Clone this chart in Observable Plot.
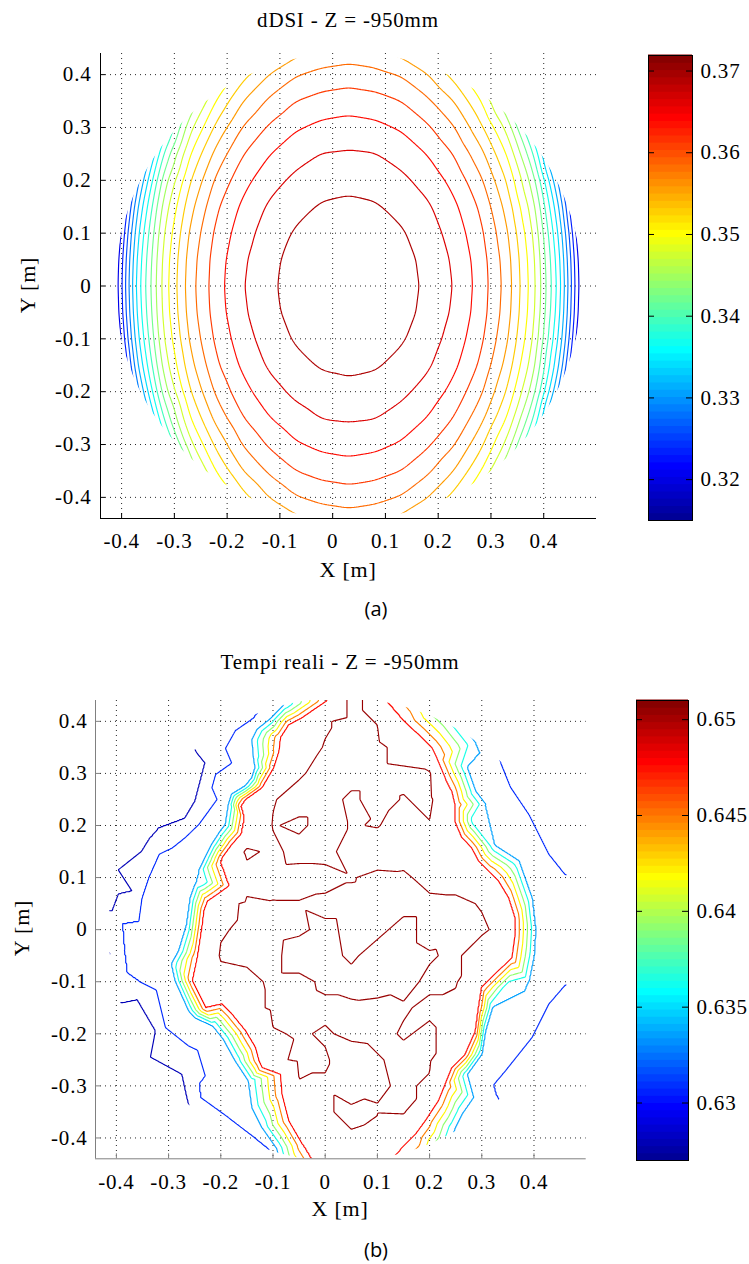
<!DOCTYPE html>
<html>
<head>
<meta charset="utf-8">
<script src="https://cdn.jsdelivr.net/npm/d3@7"></script>
<script src="https://cdn.jsdelivr.net/npm/@observablehq/plot@0.6"></script>
<style>
  html, body { margin: 0; padding: 0; background: #fff; }
  #page { position: relative; width: 749px; height: 1264px; overflow: hidden; color: #000;
          font-family: "Liberation Serif", "Times New Roman", serif; }
  .txt { position: absolute; font-size: 21px; letter-spacing: 0.8px; line-height: 1; white-space: nowrap;
         transform: translate(-50%, -50%); }
  .lab { font-size: 22px; }
  .rot { transform: translate(-50%, -50%) rotate(-90deg); }
  .cap { font-family: "Open Sans", "Noto Sans", sans-serif; font-size: 20px; letter-spacing: 0; }
</style>
</head>
<body>
<div id="page"></div>
<script>
// ---- shared axes ----
const xTicks = [-0.4, -0.3, -0.2, -0.1, 0, 0.1, 0.2, 0.3, 0.4];
const yTicks = [-0.4, -0.3, -0.2, -0.1, 0, 0.1, 0.2, 0.3, 0.4];
const xDomain = [-0.44, 0.5];
const yDomain = [-0.44, 0.44];
const probeCenter = [0.03, 0];          // centre of the measured disc [m]

// ---- (a) dDSI, Z = -950 mm ----
const dsiGridX = [-0.42,-0.37,-0.32,-0.27,-0.22,-0.17,-0.12,-0.07,-0.02,0.03,0.08,0.13,0.18,0.23,0.28,0.33,0.38,0.43,0.48];
const dsiGridY = [0.45,0.40,0.35,0.30,0.25,0.20,0.15,0.10,0.05,0,-0.05,-0.10,-0.15,-0.20,-0.25,-0.30,-0.35,-0.40,-0.45];
const dsiGrid = [
  [0.2960,0.2960,0.3130,0.3285,0.3407,0.3475,0.3518,0.3543,0.3558,0.3564,0.3558,0.3543,0.3518,0.3475,0.3407,0.3285,0.3130,0.2960,0.2960],
  [0.2960,0.3036,0.3211,0.3369,0.3466,0.3521,0.3558,0.3582,0.3593,0.3598,0.3593,0.3582,0.3558,0.3521,0.3466,0.3369,0.3211,0.3036,0.2960],
  [0.2960,0.3109,0.3285,0.3426,0.3506,0.3557,0.3589,0.3611,0.3621,0.3625,0.3621,0.3611,0.3589,0.3557,0.3506,0.3426,0.3285,0.3109,0.2960],
  [0.2970,0.3176,0.3350,0.3469,0.3538,0.3586,0.3615,0.3635,0.3645,0.3649,0.3645,0.3635,0.3615,0.3586,0.3538,0.3469,0.3350,0.3176,0.2970],
  [0.3023,0.3230,0.3398,0.3503,0.3567,0.3610,0.3637,0.3655,0.3666,0.3668,0.3666,0.3655,0.3637,0.3610,0.3567,0.3503,0.3398,0.3230,0.3023],
  [0.3067,0.3278,0.3435,0.3529,0.3590,0.3629,0.3655,0.3671,0.3680,0.3684,0.3680,0.3671,0.3655,0.3629,0.3590,0.3529,0.3435,0.3278,0.3067],
  [0.3102,0.3312,0.3460,0.3548,0.3607,0.3644,0.3669,0.3684,0.3695,0.3698,0.3695,0.3684,0.3669,0.3644,0.3607,0.3548,0.3460,0.3312,0.3102],
  [0.3128,0.3334,0.3476,0.3562,0.3618,0.3654,0.3678,0.3695,0.3706,0.3710,0.3706,0.3695,0.3678,0.3654,0.3618,0.3562,0.3476,0.3334,0.3128],
  [0.3143,0.3347,0.3485,0.3570,0.3625,0.3661,0.3684,0.3702,0.3713,0.3717,0.3713,0.3702,0.3684,0.3661,0.3625,0.3570,0.3485,0.3347,0.3143],
  [0.3147,0.3353,0.3488,0.3573,0.3627,0.3664,0.3686,0.3705,0.3715,0.3719,0.3715,0.3705,0.3686,0.3664,0.3627,0.3573,0.3488,0.3353,0.3147],
  [0.3143,0.3347,0.3485,0.3570,0.3625,0.3661,0.3684,0.3702,0.3713,0.3717,0.3713,0.3702,0.3684,0.3661,0.3625,0.3570,0.3485,0.3347,0.3143],
  [0.3128,0.3334,0.3476,0.3562,0.3618,0.3654,0.3678,0.3695,0.3706,0.3710,0.3706,0.3695,0.3678,0.3654,0.3618,0.3562,0.3476,0.3334,0.3128],
  [0.3102,0.3312,0.3460,0.3548,0.3607,0.3644,0.3669,0.3684,0.3695,0.3698,0.3695,0.3684,0.3669,0.3644,0.3607,0.3548,0.3460,0.3312,0.3102],
  [0.3067,0.3278,0.3435,0.3529,0.3590,0.3629,0.3655,0.3671,0.3680,0.3684,0.3680,0.3671,0.3655,0.3629,0.3590,0.3529,0.3435,0.3278,0.3067],
  [0.3023,0.3230,0.3398,0.3503,0.3567,0.3610,0.3637,0.3655,0.3666,0.3668,0.3666,0.3655,0.3637,0.3610,0.3567,0.3503,0.3398,0.3230,0.3023],
  [0.2970,0.3176,0.3350,0.3469,0.3538,0.3586,0.3615,0.3635,0.3645,0.3649,0.3645,0.3635,0.3615,0.3586,0.3538,0.3469,0.3350,0.3176,0.2970],
  [0.2960,0.3109,0.3285,0.3426,0.3506,0.3557,0.3589,0.3611,0.3621,0.3625,0.3621,0.3611,0.3589,0.3557,0.3506,0.3426,0.3285,0.3109,0.2960],
  [0.2960,0.3036,0.3211,0.3369,0.3466,0.3521,0.3558,0.3582,0.3593,0.3598,0.3593,0.3582,0.3558,0.3521,0.3466,0.3369,0.3211,0.3036,0.2960],
  [0.2960,0.2960,0.3130,0.3285,0.3407,0.3475,0.3518,0.3543,0.3558,0.3564,0.3558,0.3543,0.3518,0.3475,0.3407,0.3285,0.3130,0.2960,0.2960]
];
const dsiLevels = [0.3179, 0.3206, 0.3233, 0.3260, 0.3287, 0.3314, 0.3341, 0.3368, 0.3395, 0.3422,
                   0.3449, 0.3476, 0.3503, 0.3530, 0.3557, 0.3584, 0.3611, 0.3638, 0.3665, 0.3692];
const dsiRange = [0.3150, 0.3719];
const dsiBarTicks = [0.32, 0.33, 0.34, 0.35, 0.36, 0.37];
const dsiRadius = 0.442;

// ---- (b) measured times, Z = -950 mm ----
const trLevels = [0.6280, 0.6308, 0.6336, 0.6364, 0.6392, 0.6420, 0.6448, 0.6476, 0.6504];
const trRange = [0.6270, 0.6510];
const trBarTicks = [0.63, 0.635, 0.64, 0.645, 0.65];
const trRadius = 0.445;

// positions [x, y] (m) on the 0.6476 s isoline
const trRed = [
  [0.01,0.50],[0.003,0.44],[-0.045,0.407],[-0.07,0.394],[-0.086,0.369],[-0.089,0.343],[-0.099,0.311],
  [-0.121,0.273],[-0.153,0.25],[-0.162,0.237],[-0.156,0.215],[-0.147,0.199],[-0.162,0.183],[-0.179,0.164],
  [-0.198,0.138],[-0.201,0.129],[-0.179,0.113],[-0.172,0.10],[-0.185,0.084],[-0.207,0.068],[-0.226,0.055],
  [-0.233,0.036],[-0.236,0.01],[-0.245,-0.05],[-0.255,-0.098],[-0.229,-0.15],[-0.198,-0.143],[-0.179,-0.162],
  [-0.153,-0.194],[-0.134,-0.226],[-0.127,-0.252],[-0.121,-0.265],[-0.086,-0.278],[-0.083,-0.316],
  [-0.07,-0.367],[-0.044,-0.412],[0.007,-0.425],[0.01,-0.50],
  [0.115,0.50],[0.118,0.44],[0.122,0.41],[0.154,0.398],[0.179,0.375],[0.205,0.349],[0.214,0.33],[0.23,0.292],
  [0.23,0.279],[0.243,0.266],[0.249,0.24],[0.249,0.208],[0.262,0.177],[0.281,0.157],[0.294,0.132],[0.313,0.113],
  [0.332,0.094],[0.352,0.061],[0.364,0.023],[0.364,-0.01],[0.358,-0.054],[0.326,-0.085],[0.30,-0.111],
  [0.294,-0.15],[0.288,-0.195],[0.268,-0.24],[0.243,-0.265],[0.23,-0.297],[0.217,-0.329],[0.192,-0.367],
  [0.173,-0.393],[0.128,-0.406],[0.128,-0.44],[0.13,-0.50]
];
// positions on the 0.6336 s isoline
const trAzure = [
  [-0.06,0.50],[-0.08,0.431],[-0.105,0.405],[-0.13,0.385],[-0.14,0.365],[-0.137,0.33],[-0.134,0.311],
  [-0.14,0.292],[-0.153,0.276],[-0.179,0.26],[-0.185,0.241],[-0.191,0.202],[-0.201,0.189],[-0.217,0.164],
  [-0.23,0.138],[-0.242,0.113],[-0.236,0.093],[-0.249,0.087],[-0.258,0.061],[-0.265,0.01],[-0.28,-0.04],
  [-0.294,-0.066],[-0.287,-0.098],[-0.261,-0.156],[-0.249,-0.169],[-0.215,-0.185],[-0.195,-0.21],
  [-0.172,-0.252],[-0.147,-0.29],[-0.14,-0.342],[-0.121,-0.38],[-0.093,-0.42],[-0.08,-0.50],
  [0.20,0.50],[0.24,0.42],[0.288,0.359],[0.297,0.34],[0.272,0.311],[0.288,0.266],[0.307,0.241],[0.288,0.209],
  [0.326,0.161],[0.371,0.132],[0.396,0.061],[0.403,0.0],[0.40,-0.05],[0.39,-0.10],[0.383,-0.118],
  [0.351,-0.111],[0.32,-0.15],[0.307,-0.194],[0.30,-0.239],[0.272,-0.278],[0.284,-0.322],[0.262,-0.354],
  [0.249,-0.38],[0.235,-0.42],[0.21,-0.50]
];
// positions on the 0.6308 s isoline
const trBlue = [
  [-0.09,0.47],[-0.108,0.42],[-0.14,0.404],[-0.172,0.382],[-0.191,0.348],[-0.179,0.32],[-0.21,0.298],
  [-0.217,0.273],[-0.207,0.25],[-0.223,0.228],[-0.242,0.202],[-0.268,0.177],[-0.293,0.157],[-0.318,0.145],
  [-0.338,0.10],[-0.351,0.061],[-0.357,0.017],[-0.389,0.012],[-0.385,-0.04],[-0.38,-0.083],[-0.357,-0.099],
  [-0.306,-0.188],[-0.23,-0.28],[-0.242,-0.296],[-0.239,-0.322],[-0.185,-0.361],[-0.134,-0.40],
  [-0.108,-0.421],[-0.09,-0.47],
  [0.32,0.37],[0.336,0.32],[0.355,0.273],[0.39,0.221],[0.428,0.145],[0.459,0.106],[0.50,0.10],
  [0.50,-0.10],[0.459,-0.107],[0.428,-0.143],[0.396,-0.207],[0.345,-0.271],[0.323,-0.297],[0.32,-0.31],
  [0.329,-0.319],[0.35,-0.36]
];
// positions on the 0.6280 s isoline
const trNavy = [
  [-0.28,0.40],[-0.246,0.34],[-0.23,0.32],[-0.249,0.247],[-0.268,0.215],[-0.293,0.189],[-0.319,0.196],
  [-0.335,0.177],[-0.351,0.151],[-0.37,0.074],[-0.396,0.068],[-0.408,0.036],[-0.46,0.03],[-0.412,-0.045],
  [-0.44,-0.14],[-0.389,-0.14],[-0.36,-0.134],[-0.325,-0.194],[-0.274,-0.278],[-0.265,-0.32],[-0.25,-0.38]
];
// samples [x, y, t] inside the central plateau
const trPlateau = [
  [0.06,0.50,0.6500],[0.05,0.45,0.6510],[0.10,0.45,0.6496],
  [0,0.40,0.6502],[0.05,0.40,0.6510],[0.10,0.40,0.6503],
  [-0.05,0.35,0.6496],[0,0.35,0.6505],[0.05,0.35,0.6510],[0.10,0.35,0.6510],[0.15,0.35,0.6494],
  [-0.05,0.30,0.6502],[0,0.30,0.6510],[0.05,0.30,0.6510],[0.10,0.30,0.6510],[0.15,0.30,0.6508],[0.20,0.30,0.6506],
  [-0.10,0.25,0.6503],[-0.05,0.25,0.6510],[0,0.25,0.6510],[0.05,0.25,0.6501],[0.10,0.25,0.6510],[0.15,0.25,0.6503],[0.20,0.25,0.6508],
  [-0.10,0.20,0.6505],[-0.05,0.20,0.6501],[0,0.20,0.6510],[0.05,0.20,0.6503],[0.10,0.20,0.6505],[0.15,0.20,0.6496],[0.20,0.20,0.6503],
  [-0.15,0.15,0.6508],[-0.10,0.15,0.6500],[-0.05,0.15,0.6510],[0,0.15,0.6510],[0.05,0.15,0.6496],[0.10,0.15,0.6494],[0.15,0.15,0.6496],[0.20,0.15,0.6503],[0.25,0.15,0.6500],
  [-0.15,0.10,0.6496],[-0.10,0.10,0.6498],[-0.05,0.10,0.6497],[0,0.10,0.6498],[0.05,0.10,0.6503],[0.10,0.10,0.6508],[0.15,0.10,0.6507],[0.20,0.10,0.6498],[0.25,0.10,0.6498],[0.30,0.10,0.6497],
  [-0.20,0.05,0.6497],[-0.15,0.05,0.6507],[-0.10,0.05,0.6505],[-0.05,0.05,0.6505],[0,0.05,0.6508],[0.05,0.05,0.6508],[0.10,0.05,0.6509],[0.15,0.05,0.6508],[0.20,0.05,0.6508],[0.25,0.05,0.6507],[0.30,0.05,0.6503],
  [-0.20,0,0.6502],[-0.15,0,0.6508],[-0.10,0,0.6508],[-0.05,0,0.6506],[0,0,0.6501],[0.05,0,0.6507],[0.10,0,0.6507],[0.15,0,0.6500],[0.20,0,0.6508],[0.25,0,0.6507],[0.30,0,0.6506],[0.35,0,0.6499],
  [-0.20,-0.05,0.6506],[-0.15,-0.05,0.6508],[-0.10,-0.05,0.6507],[-0.05,-0.05,0.6498],[0,-0.05,0.6500],[0.05,-0.05,0.6506],[0.10,-0.05,0.6499],[0.15,-0.05,0.6500],[0.20,-0.05,0.6503],[0.25,-0.05,0.6506],[0.30,-0.05,0.6497],
  [-0.20,-0.10,0.6497],[-0.15,-0.10,0.6499],[-0.10,-0.10,0.6507],[-0.05,-0.10,0.6507],[0,-0.10,0.6502],[0.05,-0.10,0.6500],[0.10,-0.10,0.6499],[0.15,-0.10,0.6501],[0.20,-0.10,0.6506],[0.25,-0.10,0.6506],
  [-0.15,-0.15,0.6497],[-0.10,-0.15,0.6507],[-0.05,-0.15,0.6508],[0,-0.15,0.6506],[0.05,-0.15,0.6506],[0.10,-0.15,0.6507],[0.15,-0.15,0.6505],[0.20,-0.15,0.6502],[0.25,-0.15,0.6498],
  [-0.10,-0.20,0.6503],[-0.05,-0.20,0.6505],[0,-0.20,0.6503],[0.05,-0.20,0.6506],[0.10,-0.20,0.6507],[0.15,-0.20,0.6503],[0.20,-0.20,0.6506],[0.25,-0.20,0.6498],
  [-0.10,-0.25,0.6500],[-0.05,-0.25,0.6507],[0,-0.25,0.6505],[0.05,-0.25,0.6499],[0.10,-0.25,0.6503],[0.15,-0.25,0.6507],[0.20,-0.25,0.6506],
  [-0.05,-0.30,0.6503],[0,-0.30,0.6503],[0.05,-0.30,0.6499],[0.10,-0.30,0.6502],[0.15,-0.30,0.6506],[0.20,-0.30,0.6502],
  [-0.05,-0.35,0.6498],[0,-0.35,0.6503],[0.05,-0.35,0.6506],[0.10,-0.35,0.6505],[0.15,-0.35,0.6506],
  [0,-0.40,0.6502],[0.05,-0.40,0.6503],[0.10,-0.40,0.6498],
  [0.05,-0.45,0.6500],[0.10,-0.45,0.6490],[0.07,-0.50,0.6500]
];
// samples [x, y, t] along the edge of the measured disc
const trEdge = [
  [-0.184,0.402,0.6295],[-0.292,0.322,0.6274],[-0.343,0.261,0.6272],[-0.382,0.192,0.6272],
  [-0.409,0.118,0.6274],[-0.423,0.040,0.6277],[-0.423,-0.040,0.6279],[-0.382,-0.192,0.6272],
  [-0.343,-0.261,0.6272],[-0.308,-0.304,0.6274],[-0.198,-0.394,0.6292],
  [0.379,0.292,0.6302],[0.424,0.228,0.6302],[0.458,0.156,0.6302],[0.485,0,0.6318],
  [0.458,-0.156,0.6302],[0.424,-0.228,0.6302],[0.379,-0.292,0.6302],[0.304,-0.363,0.6322]
];
// samples [x, y, t] beyond the rim of the measured disc
const trRim = [
  [0.58,0,0.6316],[0.55,0.25,0.6295],[0.45,0.42,0.6295],[0.30,0.52,0.6320],[0.56,0.52,0.6300],
  [0.55,-0.25,0.6295],[0.45,-0.42,0.6295],[0.30,-0.52,0.6320],[0.56,-0.52,0.6300],
  [-0.52,0,0.6268],[-0.48,0.25,0.6268],[-0.40,0.45,0.6268],[-0.20,0.52,0.6290],[-0.52,0.52,0.6268],
  [-0.48,-0.25,0.6268],[-0.40,-0.45,0.6268],[-0.20,-0.52,0.6290],[-0.52,-0.52,0.6268]
];

// ---- helpers ----
const fmt = d => String(d);
const serif = '"Liberation Serif", "Times New Roman", serif';
// isoline samples sit a hair above their level, so a triangle spanned by
// three samples of the same isoline is not split by rounding noise
const onLevel = (pts, level) => pts.map(([x, y]) => ({x, y, t: level + 1e-6}));

// MATLAB-style "jet" colour map over a value range
function jetScale([lo, hi]) {
  const stops = [0, 0.117, 0.367, 0.617, 0.867, 1];
  return {
    type: "linear",
    domain: stops.map(t => lo + t * (hi - lo)),
    range: ["#000090", "#0000ff", "#00ffff", "#ffff00", "#ff0000", "#800000"],
    interpolate: "rgb",
    clamp: true
  };
}

function contourPanel(cfg) {
  const {contour, range, radius, axisColor, box, id} = cfg;
  const chart = Plot.plot({
    width: box.width, height: box.height,
    marginLeft: box.left, marginRight: box.right, marginTop: box.top, marginBottom: box.bottom,
    style: {fontFamily: serif, fontSize: "21px", letterSpacing: "0.8px", background: "transparent", color: "#000", overflow: "visible"},
    x: {domain: xDomain, label: null},
    y: {domain: yDomain, label: null},
    color: jetScale(range),
    marks: [
      Plot.gridX(xTicks, {stroke: "#000", strokeOpacity: 0.85, strokeDasharray: "1,4"}),
      Plot.gridY(yTicks, {stroke: "#000", strokeOpacity: 0.85, strokeDasharray: "1,4"}),
      contour,
      Plot.ruleX([xDomain[0]], {stroke: axisColor}),
      Plot.ruleY([yDomain[0]], {stroke: axisColor}),
      Plot.ruleX(xTicks, {x: d => d, y1: yDomain[0], y2: yDomain[0], insetTop: -5, stroke: axisColor}),
      Plot.ruleY(yTicks, {y: d => d, x1: xDomain[0], x2: xDomain[0], insetRight: -5, stroke: axisColor}),
      Plot.axisX(xTicks, {tickSize: 0, tickPadding: box.padX, tickFormat: fmt, label: null}),
      Plot.axisY(yTicks, {tickSize: 0, tickPadding: box.padY, tickFormat: fmt, label: null})
    ]
  });

  // restrict the contour lines to the measured disc
  const sx = chart.scale("x"), sy = chart.scale("y");
  const cx = sx.apply(probeCenter[0]), cy = sy.apply(probeCenter[1]);
  const rx = sx.apply(probeCenter[0] + radius) - cx;
  const ry = cy - sy.apply(probeCenter[1] + radius);
  const svg = d3.select(chart);
  svg.insert("defs", ":first-child").append("clipPath").attr("id", id)
    .append("ellipse").attr("cx", cx).attr("cy", cy).attr("rx", rx).attr("ry", ry);
  const paths = svg.select('g[aria-label="contour"]').selectAll("path").nodes();
  if (paths.length) {
    const parent = paths[0].parentNode;
    const inner = document.createElementNS("http://www.w3.org/2000/svg", "g");
    inner.setAttribute("clip-path", `url(#${id})`);
    parent.appendChild(inner);
    paths.forEach(p => inner.appendChild(p));
  }
  return chart;
}

function colorbar(cfg) {
  const {range, ticks, box} = cfg;
  const [lo, hi] = range;
  const bins = d3.range(64).map(i => ({lo: lo + i * (hi - lo) / 64, hi: lo + (i + 1) * (hi - lo) / 64}));
  return Plot.plot({
    width: box.width, height: box.height,
    marginLeft: box.left, marginRight: box.right, marginTop: box.top, marginBottom: box.bottom,
    style: {fontFamily: serif, fontSize: "21px", letterSpacing: "0.8px", background: "transparent", color: "#000", overflow: "visible"},
    x: {domain: [0, 1], axis: null},
    y: {domain: range, label: null},
    color: jetScale(range),
    marks: [
      Plot.rect(bins, {x1: 0, x2: 1, y1: "lo", y2: "hi", fill: d => (d.lo + d.hi) / 2, insetTop: -0.5, insetBottom: -0.5}),
      Plot.frame({stroke: "#000"}),
      Plot.ruleY(ticks, {y: d => d, x1: 0, x2: 0, insetRight: -6, stroke: "#000"}),
      Plot.ruleY(ticks, {y: d => d, x1: 1, x2: 1, insetLeft: -6, stroke: "#000"}),
      Plot.axisY(ticks, {anchor: "right", tickSize: 0, tickPadding: 8, tickFormat: fmt, label: null})
    ]
  });
}

// ---- page assembly ----
const page = document.getElementById("page");
function place(node, left, top) {
  node.style.position = "absolute";
  node.style.left = left + "px";
  node.style.top = top + "px";
  page.appendChild(node);
}
function text(str, x, y, extra = "") {
  const d = document.createElement("div");
  d.className = "txt " + extra;
  d.textContent = str;
  d.style.left = x + "px";
  d.style.top = y + "px";
  page.appendChild(d);
}

// (a) regular grid of dDSI values, lightly smoothed between samples;
// the raster stays just inside the sampled grid and just outside the disc
const dsiSamples = dsiGrid.flatMap((row, i) => row.map((t, j) => ({x: dsiGridX[j], y: dsiGridY[i], t})));
const dsiContour = Plot.contour(dsiSamples, {
  x: "x", y: "y", value: "t", interpolate: "barycentric", pixelSize: 1, blur: 4,
  x1: -0.415, x2: 0.475, y1: 0.445, y2: -0.445,
  thresholds: dsiLevels, stroke: "value", fill: "none", strokeWidth: 1.15, clip: true
});

// (b) scattered samples: isoline positions, plateau, disc edge and rim values
const trSamples = [
  ...onLevel(trNavy, trLevels[0]),
  ...onLevel(trBlue, trLevels[1]),
  ...onLevel(trAzure, trLevels[2]),
  ...onLevel(trRed, trLevels[7]),
  ...trPlateau.map(([x, y, t]) => ({x, y, t})),
  ...trEdge.map(([x, y, t]) => ({x, y, t})),
  ...trRim.map(([x, y, t]) => ({x, y, t}))
];
const trContour = Plot.contour(trSamples, {
  x: "x", y: "y", value: "t", interpolate: "barycentric", pixelSize: 1,
  x1: -0.5, x2: 0.56, y1: 0.5, y2: -0.5,
  thresholds: trLevels, stroke: "value", fill: "none", strokeWidth: 1.15, clip: true
});

place(contourPanel({
  contour: dsiContour, range: dsiRange, radius: dsiRadius, axisColor: "#000", id: "disc-a",
  box: {width: 610, height: 540, left: 100, right: 14, top: 13, bottom: 62, padX: 15, padY: 9}
}), 0, 40);
place(colorbar({range: dsiRange, ticks: dsiBarTicks,
  box: {width: 110, height: 495, left: 8, right: 58, top: 15, bottom: 15}}), 640, 40);

place(contourPanel({
  contour: trContour, range: trRange, radius: trRadius, axisColor: "#808080", id: "disc-b",
  box: {width: 600, height: 540, left: 95, right: 14.3, top: 20, bottom: 61.7, padX: 15, padY: 8}
}), 0, 680);
place(colorbar({range: trRange, ticks: trBarTicks,
  box: {width: 121, height: 490, left: 8, right: 61, top: 15, bottom: 15}}), 628, 685);

text("dDSI - Z = -950mm", 348, 20);
text("Y [m]", 28, 285, "rot lab");
text("X [m]", 348, 570, "lab");
text("(a)", 376, 609, "cap");
text("Tempi reali - Z = -950mm", 340, 662);
text("Y [m]", 22, 928, "rot lab");
text("X [m]", 340, 1209, "lab");
text("(b)", 376, 1250, "cap");
</script>
</body>
</html>
